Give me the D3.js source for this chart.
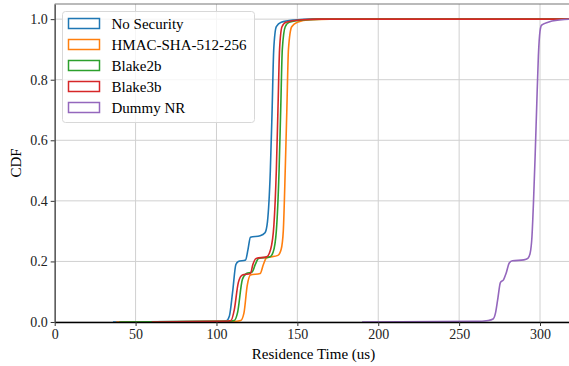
<!DOCTYPE html>
<html>
<head>
<meta charset="utf-8">
<script src="https://cdn.jsdelivr.net/npm/d3@7"></script>
<style>
  body { margin: 0; background: #fff; }
  svg text { font-family: "Liberation Serif", "Times New Roman", Times, serif !important; }
</style>
</head>
<body>
<div id="chart"></div>
<script>
// series names and colours
const seriesNames = ["No Security", "HMAC-SHA-512-256", "Blake2b", "Blake3b", "Dummy NR"];
const colors = ["#1f77b4", "#ff7f0e", "#2ca02c", "#d62728", "#9467bd"];

// CDF points: [residence time (us), cdf]
const noSecurity = [[36,0],[100,0.002],[106,0.004],[108,0.02],[110,0.1],[112,0.19],[113.5,0.2],[118,0.205],[119.5,0.24],[121,0.28],[127,0.285],[130,0.295],[131.5,0.33],[133.3,0.5],[134.4,0.7],[135.4,0.9],[137,0.975],[140,0.99],[148,0.997],[160,1.0],[330,1.0]];
const hmac = [[38,0],[110,0.002],[115,0.005],[117,0.03],[119,0.12],[121,0.155],[127,0.16],[129,0.19],[131,0.212],[138,0.22],[140,0.24],[141.3,0.3],[142.5,0.5],[143.5,0.7],[144.5,0.9],[146.5,0.975],[150,0.99],[158,0.998],[170,1.0],[330,1.0]];
const blake2b = [[40,0],[105,0.002],[111,0.005],[113,0.03],[116,0.14],[118.5,0.16],[122,0.165],[124,0.19],[126,0.21],[133,0.215],[135,0.23],[137,0.3],[138.7,0.5],[139.7,0.7],[140.7,0.9],[142.5,0.975],[145,0.99],[155,0.998],[165,1.0],[330,1.0]];
const blake3b = [[60,0],[104,0.002],[109,0.005],[111,0.04],[113.5,0.13],[116,0.155],[121,0.16],[122.5,0.19],[124.5,0.21],[131,0.215],[133.5,0.24],[135.5,0.32],[137,0.5],[138,0.7],[139,0.9],[140.5,0.975],[143,0.99],[153,0.998],[163,1.0],[330,1.0]];
const dummyNR = [[190,0],[260,0.002],[268,0.005],[271,0.01],[272.5,0.03],[274,0.08],[275.5,0.13],[277.5,0.14],[279,0.16],[281,0.195],[283,0.202],[290,0.205],[292.5,0.21],[294,0.23],[295,0.28],[296,0.4],[297,0.55],[298,0.72],[299,0.88],[300,0.96],[301,0.98],[305,0.99],[312,0.997],[320,1.0],[330,1.0]];
const allSeries = [noSecurity, hmac, blake2b, blake3b, dummyNR];

const xTicks = [0, 50, 100, 150, 200, 250, 300];
const yTicks = [0, 0.2, 0.4, 0.6, 0.8, 1.0];

const width = 569, height = 366;
const margin = {top: 4, left: 54.7, bottom: 44};
const serif = "'Liberation Serif', 'Times New Roman', Times, serif";

const svg = d3.select("#chart").append("svg")
  .attr("width", width)
  .attr("height", height)
  .attr("font-family", serif);

// x runs past the right edge of the picture, like the cropped original
const x = d3.scaleLinear().domain([0, 320]).range([margin.left, margin.left + 320 * 1.6177]);
const y = d3.scaleLinear().domain([0, 1.05]).range([height - margin.bottom, margin.top]);

svg.append("defs").append("clipPath").attr("id", "plotclip")
  .append("rect")
  .attr("x", x(0)).attr("y", y(1.05))
  .attr("width", x(320) - x(0)).attr("height", y(0) - y(1.05));

// grid
const grid = svg.append("g");
grid.selectAll(".gx").data(xTicks).enter().append("line")
  .attr("x1", d => x(d)).attr("x2", d => x(d))
  .attr("y1", y(0)).attr("y2", y(1.05))
  .attr("stroke", "#d0d0d0").attr("stroke-width", 1);
grid.selectAll(".gy").data(yTicks).enter().append("line")
  .attr("x1", x(0)).attr("x2", x(320))
  .attr("y1", d => y(d)).attr("y2", d => y(d))
  .attr("stroke", "#d0d0d0").attr("stroke-width", 1);

// lines
const line = d3.line()
  .x(d => x(d[0]))
  .y(d => y(d[1]))
  .curve(d3.curveMonotoneX);

const plot = svg.append("g").attr("clip-path", "url(#plotclip)");
allSeries.forEach((s, i) => {
  plot.append("path")
    .datum(s)
    .attr("d", line)
    .attr("fill", "none")
    .attr("stroke", colors[i])
    .attr("stroke-width", 1.6);
});

// top spine
svg.append("line")
  .attr("x1", x(0)).attr("x2", width)
  .attr("y1", y(1.05)).attr("y2", y(1.05))
  .attr("stroke", "#777").attr("stroke-width", 1.2);

// axes
const xAxis = svg.append("g")
  .attr("transform", "translate(0," + y(0) + ")")
  .call(d3.axisBottom(x).tickValues(xTicks).tickSize(4).tickPadding(3).tickSizeOuter(0));
const yAxis = svg.append("g")
  .attr("transform", "translate(" + x(0) + ",0)")
  .call(d3.axisLeft(y).tickValues(yTicks).tickFormat(d3.format(".1f")).tickSize(4).tickPadding(3).tickSizeOuter(0));

xAxis.select(".domain").attr("stroke", "#000").attr("stroke-width", 1.3);
yAxis.select(".domain").attr("stroke", "#444").attr("stroke-width", 1.3);
[xAxis, yAxis].forEach(a => {
  a.attr("font-family", serif).attr("font-size", 14);
  a.selectAll("text").attr("fill", "#222");
  a.selectAll(".tick line").attr("stroke", "#333");
});

// axis labels
svg.append("text")
  .attr("x", 313.5)
  .attr("y", 359)
  .attr("text-anchor", "middle")
  .attr("font-size", 15)
  .text("Residence Time (us)");

svg.append("text")
  .attr("transform", "translate(21," + y(0.525) + ")rotate(-90)")
  .attr("text-anchor", "middle")
  .attr("font-size", 15)
  .text("CDF");

// legend
const legend = svg.append("g");
legend.append("rect")
  .attr("x", 62.5).attr("y", 11.5)
  .attr("width", 192).attr("height", 111)
  .attr("rx", 3)
  .attr("fill", "#fff").attr("fill-opacity", 0.8)
  .attr("stroke", "#d8d8d8");

seriesNames.forEach((name, i) => {
  const row = legend.append("g").attr("transform", "translate(0," + (18.5 + i * 21) + ")");
  row.append("rect")
    .attr("x", 68.5).attr("y", 0)
    .attr("width", 31).attr("height", 10)
    .attr("fill", "none")
    .attr("stroke", colors[i])
    .attr("stroke-width", 1.5);
  row.append("text")
    .attr("x", 111.5).attr("y", 10.5)
    .attr("font-size", 15)
    .text(name);
});
</script>
</body>
</html>
